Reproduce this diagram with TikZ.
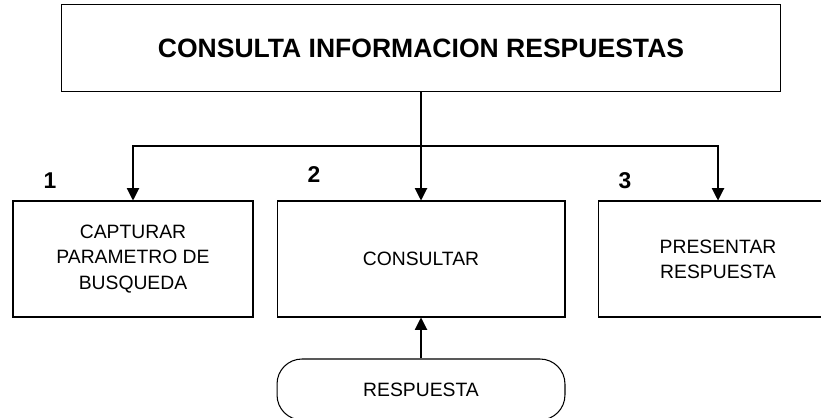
\documentclass[tikz,border=0pt]{standalone}
\usepackage{fontspec}
\setmainfont{Liberation Sans}
\usetikzlibrary{arrows.meta, positioning, calc}

\begin{document}
\begin{tikzpicture}[>={Triangle[width=7pt,length=7pt]}, x=0.02cm, y=-0.02cm, line width=0.6pt]
    \tikzset{box/.style={draw, minimum height=2.32cm, align=center, font=\fontsize{11}{14.4}\selectfont},
        title/.style={draw, minimum width=14.4cm, minimum height=1.74cm, font=\fontsize{15.1}{18}\selectfont\bfseries},
        terminal/.style={draw, rounded corners=0.5cm, minimum width=5.76cm, minimum height=1.22cm, font=\fontsize{11}{14}\selectfont},
        num/.style={font=\fontsize{13}{15}\selectfont\bfseries}
    }
    \clip (0,0) rectangle (821,418);

    \node (Main) [title] at (421, 48) {CONSULTA INFORMACION RESPUESTAS};
    \coordinate (Bus) at (421, 146);
    \draw (Main.south) -- (Bus);

    \foreach \i / \x / \w / \nx / \ny / \txt in {1/133/4.8cm/50/181/{CAPTURAR\\PARAMETRO DE\\BUSQUEDA},
                                               2/421/5.76cm/314/175/{CONSULTAR},
                                               3/718/4.8cm/625/181/{PRESENTAR\\RESPUESTA}} {
        \node (Task\i) [box, minimum width=\w] at (\x, 259) {\txt};
        \node (Num\i) [num] at (\nx, \ny) {\i};
        \draw [->] (Bus) -| (Task\i.north);
    }

    \node (Resp) [terminal] at (421, 389.5) {RESPUESTA};
    \draw [->] (Resp) -- (Task2);
\end{tikzpicture}
\end{document}
